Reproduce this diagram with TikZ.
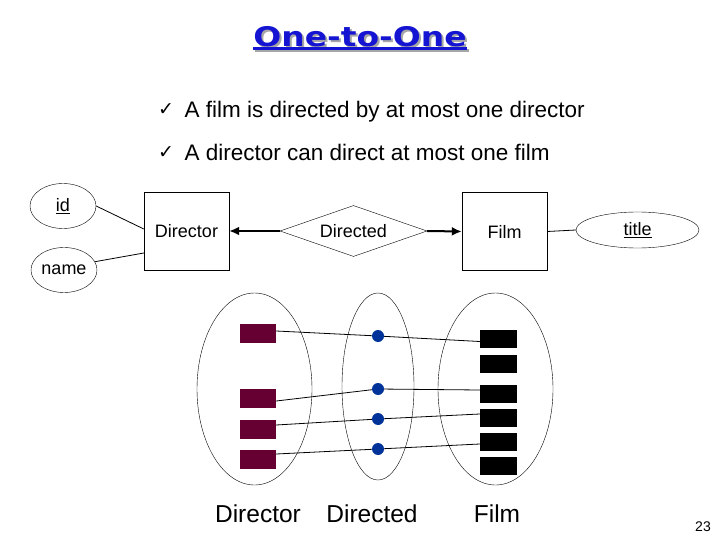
\documentclass[tikz,border=0pt]{standalone}
\usepackage{fontspec}
\setmainfont{Liberation Sans}
\newfontfamily\symfont{DejaVu Sans}
\newfontfamily\titlefont{DejaVu Sans Bold}
\usetikzlibrary{shapes.geometric,arrows.meta,calc}
\definecolor{titleblue}{RGB}{20,20,210}
\definecolor{maroon}{RGB}{102,0,51}
\definecolor{dotblue}{RGB}{0,51,153}
\newcommand{\titletext}{\scalebox{1.22}[1]{One-to-One}}
\begin{document}
\begin{tikzpicture}[x=1pt,y=-1pt,
  entity/.style={draw,rectangle,minimum width=85pt,minimum height=78pt,inner sep=0pt,font=\fontsize{18}{20}\selectfont},
  relship/.style={draw,diamond,aspect=2.9,minimum width=147pt,minimum height=51pt,inner sep=0pt,font=\fontsize{18}{20}\selectfont},
  attr/.style={draw,ellipse,inner sep=0pt,font=\fontsize{18}{20}\selectfont},
  setell/.style={draw,ellipse,inner sep=0pt},
  mbox/.style={fill=maroon,rectangle,minimum width=36pt,minimum height=19pt,inner sep=0pt},
  bbox/.style={fill=black,rectangle,minimum width=37pt,minimum height=18pt,inner sep=0pt},
  bdot/.style={fill=dotblue,circle,minimum size=12pt,inner sep=0pt},
  thin line/.style={line width=0.8pt},
  relarrow/.style={line width=2pt,-{Latex[length=10pt,width=9pt]}},
  biglabel/.style={anchor=base,font=\fontsize{24.5}{26}\selectfont},
  bullettext/.style={anchor=base west,font=\fontsize{22.5}{25}\selectfont},
  checkmark/.style={font=\symfont\fontsize{19}{20}\selectfont}
]
\useasboundingbox (0,0) rectangle (720,540);
\fill[white] (0,0) rectangle (720,540);

% title with shadow (one node)
\node[font=\titlefont\fontsize{27}{30}\selectfont, inner sep=0pt] (title) at (360,38)
  {\rlap{\hspace{2pt}\raisebox{-2pt}{\textcolor{gray!70}{\titletext}}}\textcolor{titleblue}{\titletext}};
\draw[gray!70,line width=3pt] (255,51) -- (469,51);
\draw[titleblue,line width=3pt] (253,49) -- (467,49);

% bullets
\node[checkmark] (c1) at (166,110) {✓};
\node[bullettext] (t1) at (181,118) {A film is directed by at most one director};
\node[checkmark] (c2) at (166,153) {✓};
\node[bullettext] (t2) at (181,161) {A director can direct at most one film};

% ER diagram
\node[entity] (dir) at (186.5,231) {Director};
\node[entity] (film) at (504.5,231.5) {Film};
\node[relship] (rel) at (353.5,231) {Directed};
\node[attr,minimum width=66pt,minimum height=45pt] (id) at (63,206) {\underline{id}};
\node[attr,minimum width=66pt,minimum height=45pt] (name) at (64,270) {name};
\node[attr,minimum width=123pt,minimum height=36pt] (ttl) at (637.5,230) {\underline{title}};

\draw[thin line] (id.east) -- ($(dir.west)+(0,-2)$);
\draw[thin line] (name.15) -- ($(dir.west)+(0,22)$);
\draw[thin line] (film.east) -- (ttl.west);
\draw[relarrow] (rel.west) -- (dir.east);
\draw[relarrow] (rel.east) -- (film.west);

% instance sets
\node[setell,minimum width=115pt,minimum height=192pt] (sdir) at (254.5,389) {};
\node[setell,minimum width=72pt,minimum height=187pt] (srel) at (378,386.5) {};
\node[setell,minimum width=115pt,minimum height=192pt] (sfilm) at (495.5,389) {};

\node[mbox] (m1) at (258,333) {};
\node[mbox] (m2) at (258,398.5) {};
\node[mbox] (m3) at (258,429) {};
\node[mbox] (m4) at (258,459) {};

\node[bbox] (b1) at (498.5,339) {};
\node[bbox] (b2) at (498.5,364) {};
\node[bbox] (b3) at (498.5,393.5) {};
\node[bbox] (b4) at (498.5,417.5) {};
\node[bbox] (b5) at (498.5,442) {};
\node[bbox] (b6) at (498.5,466) {};

\node[bdot] (d1) at (378,336) {};
\node[bdot] (d2) at (378,389) {};
\node[bdot] (d3) at (378,419) {};
\node[bdot] (d4) at (378,449) {};

\draw[thin line] ($(m1.east)+(0,-2)$) -- (d1) (d1) -- ($(b1.west)+(0,2.5)$);
\draw[thin line] ($(m2.east)+(0,2.5)$) -- (d2) (d2) -- ($(b3.west)+(0,-3.5)$);
\draw[thin line] ($(m3.east)+(0,-4)$) -- (d3) (d3) -- ($(b4.west)+(0,-3.5)$);
\draw[thin line] ($(m4.east)+(0,-5)$) -- (d4) (d4) -- ($(b5.west)+(0,2)$);

\node[biglabel] (l1) at (258,522) {Director};
\node[biglabel] (l2) at (372,522) {Directed};
\node[biglabel] (l3) at (497,522) {Film};

\node[font=\fontsize{14}{16}\selectfont] (pg) at (703,527) {23};
\end{tikzpicture}
\end{document}
